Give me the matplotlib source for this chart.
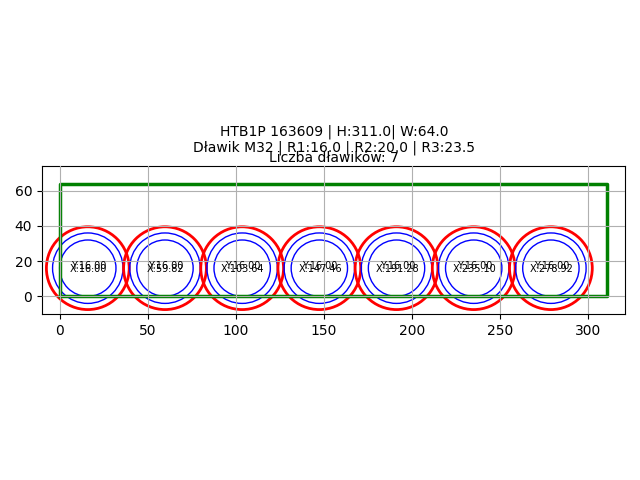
import matplotlib
matplotlib.use("Agg")
import matplotlib.pyplot as plt
from matplotlib.patches import Circle

height = 311.0
width = 64.0
radii_blue = [16.0, 20.0]
radius_red = 23.5
center_x = [16.00, 59.82, 103.64, 147.46, 191.28, 235.10, 278.92]
center_y = [16.00, 16.00, 16.00, 16.00, 16.00, 16.00, 16.00]
rect_x = [0, 0, height, height, 0]
rect_y = [0, width, width, 0, 0]
title_main = "HTB1P 163609 | H:311.0| W:64.0\nDławik M32 | R1:16.0 | R2:20.0 | R3:23.5"
title_count = "Liczba dławików: 7"

fig = plt.figure(figsize=(6.4, 4.8), dpi=100)
ax = fig.add_axes([42/640, 1-314/480, 583/640, 148/480])
ax.plot(rect_x, rect_y, color="green", lw=2.5)
for x, y in zip(center_x, center_y):
    ax.add_patch(Circle((x, y), radius_red, fill=False, edgecolor="red", lw=2.0))
    for r in radii_blue:
        ax.add_patch(Circle((x, y), r, fill=False, edgecolor="blue", lw=1.0))
    ax.text(x + 0.4, y - 0.4, f"X:{x:.2f}", ha="center", va="center", fontsize=7)
    ax.text(x + 0.4, y + 1.4, f"Y:{y:.2f}", ha="center", va="center", fontsize=7)
ax.set_xlim(-10, height + 10)
ax.set_ylim(-10, width + 10)
ax.set_aspect("equal", adjustable="box")
ax.grid(True)
ax.set_axisbelow(False)
ax.set_title(title_count, fontsize=10, pad=3)
fig.text(334.2/640, 1-140/480, title_main, ha="center", va="center", fontsize=10, linespacing=1.1)
fig.savefig("out.png", dpi=100)
